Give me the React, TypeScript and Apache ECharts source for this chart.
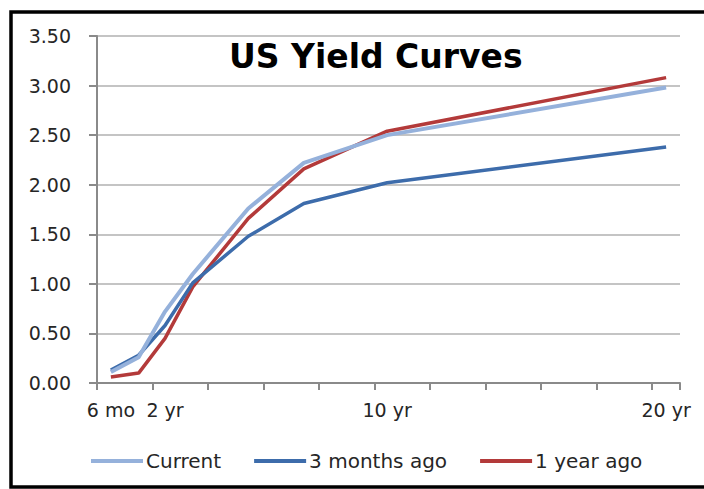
import React, { useEffect, useRef } from "react";
import * as echarts from "echarts";

// Maturities plotted on the x axis (position in years on the 0–21 axis)
const maturities = ["6 mo", "1 yr", "2 yr", "3 yr", "5 yr", "7 yr", "10 yr", "20 yr"];
const maturityPos = [0.5, 1.5, 2.45, 3.45, 5.45, 7.45, 10.45, 20.5];

// Yields (%)
const current = [0.11, 0.26, 0.72, 1.1, 1.76, 2.22, 2.5, 2.98];
const threeMonthsAgo = [0.13, 0.28, 0.58, 1.01, 1.48, 1.81, 2.02, 2.38];
const oneYearAgo = [0.06, 0.1, 0.45, 0.97, 1.66, 2.16, 2.54, 3.08];

// x-axis labels that are shown
const shownLabels = ["6 mo", "2 yr", "10 yr", "20 yr"];

const seriesNames = ["Current", "3 months ago", "1 year ago"];
const seriesColors = ["#95B1DB", "#3D6CAB", "#B33A3A"];

const FONT = "DejaVu Sans";

export default function App() {
  const ref = useRef<HTMLDivElement>(null);

  useEffect(() => {
    if (!ref.current) return;
    const chart = echarts.init(ref.current, null, { renderer: "svg" });
    const pairs = (vals: number[]) => vals.map((v, i) => [maturityPos[i], v]);
    const labelValues = shownLabels.map((l) => maturityPos[maturities.indexOf(l)]);
    const datasets = [current, threeMonthsAgo, oneYearAgo];

    chart.setOption({
      animation: false,
      backgroundColor: "#ffffff",
      title: {
        text: "US Yield Curves",
        left: 224,
        top: 35,
        textStyle: { fontFamily: FONT, fontSize: 33, fontWeight: "bold", color: "#000000" },
      },
      legend: {
        left: 86,
        top: 446,
        itemWidth: 52,
        itemHeight: 4,
        itemGap: 33,
        icon: "rect",
        textStyle: { fontFamily: FONT, fontSize: 20, color: "#262626", padding: [0, 0, 0, -2] },
        data: seriesNames,
      },
      grid: { left: 97, right: 24, top: 36, bottom: 106, containLabel: false },
      xAxis: {
        type: "value",
        min: 0,
        max: 21,
        interval: 2,
        axisLine: { show: true, lineStyle: { color: "#8a8a8a", width: 2 } },
        axisTick: { show: true, length: 7, lineStyle: { color: "#8a8a8a", width: 2 } },
        splitLine: { show: false },
        axisLabel: {
          customValues: labelValues,
          formatter: (v: number) => {
            const idx = labelValues.findIndex((x) => Math.abs(x - v) < 1e-6);
            return idx >= 0 ? shownLabels[idx] : "";
          },
          fontFamily: FONT,
          fontSize: 19,
          color: "#262626",
          margin: 17,
          showMinLabel: true,
          showMaxLabel: true,
        },
      },
      yAxis: {
        type: "value",
        min: 0,
        max: 3.5,
        interval: 0.5,
        axisLine: { show: true, lineStyle: { color: "#8a8a8a", width: 2 } },
        axisTick: { show: true, length: 8, lineStyle: { color: "#8a8a8a", width: 2 } },
        splitLine: { show: true, lineStyle: { color: "#c4c4c4", width: 2 } },
        axisLabel: {
          formatter: (v: number) => v.toFixed(2),
          fontFamily: FONT,
          fontSize: 19,
          color: "#262626",
          margin: 26,
        },
      },
      series: seriesNames.map((name, i) => ({
        name,
        type: "line",
        data: pairs(datasets[i]),
        showSymbol: false,
        symbol: "none",
        lineStyle: { color: seriesColors[i], width: i === 0 ? 4 : 3.5 },
        itemStyle: { color: seriesColors[i] },
        z: 3 - i,
      })),
      graphic: [
        {
          type: "rect",
          shape: { x: 11, y: 12, width: 700, height: 475 },
          style: { fill: "none", stroke: "#000000", lineWidth: 3.5 },
          silent: true,
        },
      ],
    });
    return () => chart.dispose();
  }, []);

  return (
    <div
      ref={ref}
      style={{ position: "absolute", left: 0, top: 0, width: 704, height: 489 }}
    />
  );
}
